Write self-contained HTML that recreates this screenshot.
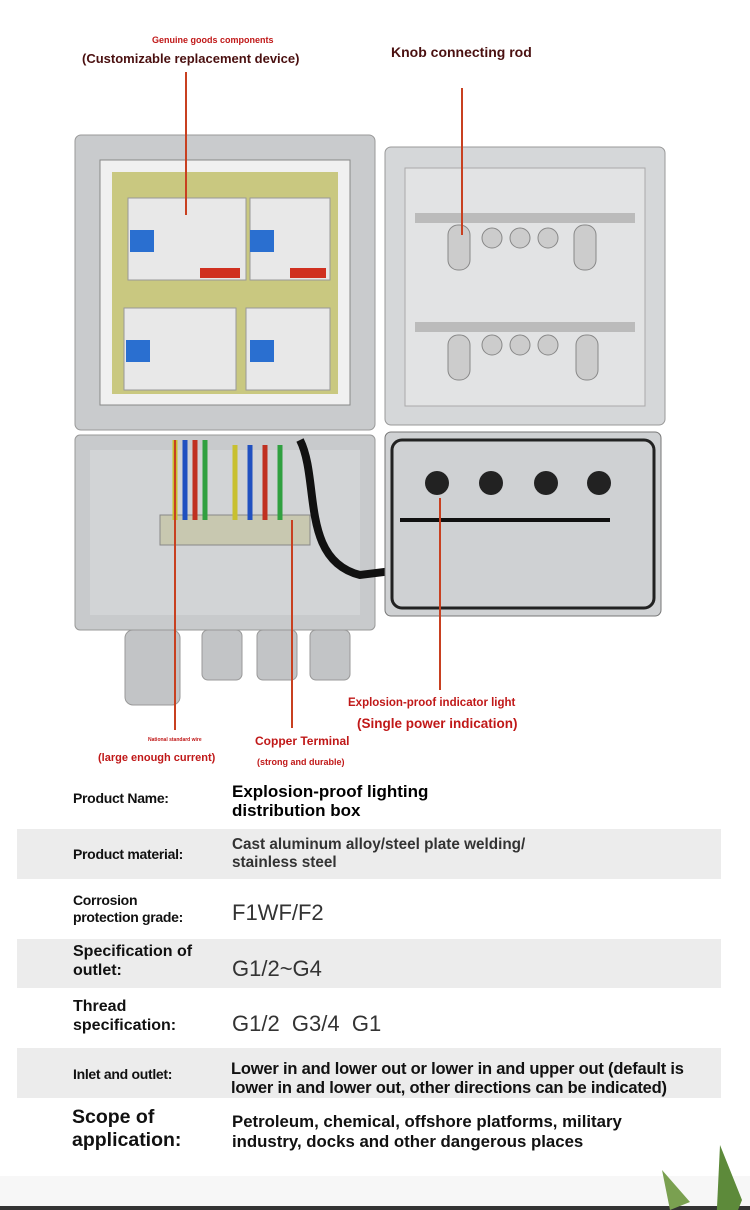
<!DOCTYPE html>
<html><head><meta charset="utf-8"><style>
body{margin:0;background:#fff;width:750px;height:1210px;position:relative;overflow:hidden;font-family:"Liberation Sans",sans-serif}
.t{position:absolute;font-weight:bold;white-space:nowrap;transform-origin:0 0}
.r{color:#c01818}
.band{position:absolute;left:17px;width:704px;background:#ececec}
.lab{color:#111;font-size:14px;letter-spacing:-0.3px}
</style></head><body>
<svg width="750" height="780" style="position:absolute;left:0;top:0">
<rect x="75" y="135" width="300" height="295" rx="6" fill="#c9cbcd" stroke="#999"/>
<rect x="100" y="160" width="250" height="245" fill="#f0f0f0" stroke="#888"/>
<rect x="112" y="172" width="226" height="222" fill="#c9c880"/>
<rect x="128" y="198" width="118" height="82" fill="#e8e8e8" stroke="#999"/>
<rect x="250" y="198" width="80" height="82" fill="#e8e8e8" stroke="#999"/>
<rect x="124" y="308" width="112" height="82" fill="#e8e8e8" stroke="#999"/>
<rect x="246" y="308" width="84" height="82" fill="#e8e8e8" stroke="#999"/>
<rect x="130" y="230" width="24" height="22" fill="#2a6fd0"/><rect x="250" y="230" width="24" height="22" fill="#2a6fd0"/>
<rect x="126" y="340" width="24" height="22" fill="#2a6fd0"/><rect x="250" y="340" width="24" height="22" fill="#2a6fd0"/>
<rect x="200" y="268" width="40" height="10" fill="#d03020"/><rect x="290" y="268" width="36" height="10" fill="#d03020"/>
<rect x="385" y="147" width="280" height="278" rx="6" fill="#d5d7d9" stroke="#999"/>
<rect x="405" y="168" width="240" height="238" fill="#e2e3e4" stroke="#aaa"/>
<rect x="415" y="213" width="220" height="10" fill="#bbb"/><rect x="415" y="322" width="220" height="10" fill="#bbb"/>
<g fill="#ccc" stroke="#888"><circle cx="492" cy="238" r="10"/><circle cx="520" cy="238" r="10"/><circle cx="548" cy="238" r="10"/>
<circle cx="492" cy="345" r="10"/><circle cx="520" cy="345" r="10"/><circle cx="548" cy="345" r="10"/>
<rect x="448" y="225" width="22" height="45" rx="10"/><rect x="574" y="225" width="22" height="45" rx="10"/>
<rect x="448" y="335" width="22" height="45" rx="10"/><rect x="576" y="335" width="22" height="45" rx="10"/></g>
<rect x="75" y="435" width="300" height="195" rx="5" fill="#c8cacc" stroke="#999"/>
<rect x="90" y="450" width="270" height="165" fill="#d2d4d6"/>
<rect x="160" y="515" width="150" height="30" fill="#c8c8b0" stroke="#888"/>
<g stroke-width="5" fill="none"><path d="M175 440V520" stroke="#c8c030"/><path d="M185 440V520" stroke="#2050c0"/><path d="M195 440V520" stroke="#c03020"/><path d="M205 440V520" stroke="#30a040"/>
<path d="M235 445V520" stroke="#c8c030"/><path d="M250 445V520" stroke="#2050c0"/><path d="M265 445V520" stroke="#c03020"/><path d="M280 445V520" stroke="#30a040"/>
<path d="M300 440C320 480 300 560 360 575L400 570" stroke="#111" stroke-width="8"/></g>
<rect x="385" y="432" width="276" height="184" rx="6" fill="#cfd1d3" stroke="#777"/>
<rect x="392" y="440" width="262" height="168" rx="10" fill="none" stroke="#222" stroke-width="3"/>
<g fill="#222"><circle cx="437" cy="483" r="12"/><circle cx="491" cy="483" r="12"/><circle cx="546" cy="483" r="12"/><circle cx="599" cy="483" r="12"/></g>
<path d="M400 520H610" stroke="#111" stroke-width="4"/>
<g fill="#c2c4c6" stroke="#999"><rect x="125" y="630" width="55" height="75" rx="8"/><rect x="202" y="630" width="40" height="50" rx="6"/><rect x="257" y="630" width="40" height="50" rx="6"/><rect x="310" y="630" width="40" height="50" rx="6"/></g>
<g stroke="#c84020" stroke-width="2"><path d="M186 72V215"/><path d="M462 88V235"/><path d="M175 440V730"/><path d="M292 520V728"/><path d="M440 498V690"/></g>
</svg>
<div class="t r" style="left:152px;top:35px;font-size:9px">Genuine goods components</div>
<div class="t" style="left:82px;top:51px;font-size:13px;color:#4a1010">(Customizable replacement device)</div>
<div class="t" style="left:391px;top:44px;font-size:14px;color:#4a1010">Knob connecting rod</div>
<div class="t r" style="left:348px;top:697px;font-size:11.5px">Explosion-proof indicator light</div>
<div class="t r" style="left:357px;top:716px;font-size:13.5px">(Single power indication)</div>
<div class="t r" style="left:148px;top:737px;font-size:5px">National standard wire</div>
<div class="t r" style="left:255px;top:734px;font-size:12px">Copper Terminal</div>
<div class="t r" style="left:98px;top:752px;font-size:11px">(large enough current)</div>
<div class="t r" style="left:257px;top:757px;font-size:9px">(strong and durable)</div>

<div class="band" style="top:829px;height:50px"></div>
<div class="band" style="top:939px;height:49px"></div>
<div class="band" style="top:1048px;height:50px"></div>

<div class="t lab" style="left:73px;top:790px">Product Name:</div>
<div class="t" style="left:232px;top:782px;font-size:17px;line-height:19px">Explosion-proof lighting<br>distribution box</div>
<div class="t lab" style="left:73px;top:846px">Product material:</div>
<div class="t" style="left:232px;top:836px;font-size:15.3px;line-height:18px;color:#333">Cast aluminum alloy/steel plate welding/<br>stainless steel</div>
<div class="t lab" style="left:73px;top:892px;line-height:17px">Corrosion<br>protection grade:</div>
<div class="t" style="left:232px;top:900px;font-size:22px;font-weight:normal;color:#333">F1WF/F2</div>
<div class="t" style="left:73px;top:942px;font-size:16px;line-height:19px;color:#111">Specification of<br>outlet:</div>
<div class="t" style="left:232px;top:956px;font-size:22px;font-weight:normal;color:#333">G1/2~G4</div>
<div class="t" style="left:73px;top:997px;font-size:16px;line-height:19px;color:#111">Thread<br>specification:</div>
<div class="t" style="left:232px;top:1011px;font-size:22px;font-weight:normal;color:#333">G1/2&nbsp; G3/4&nbsp; G1</div>
<div class="t lab" style="left:73px;top:1066px">Inlet and outlet:</div>
<div class="t" style="left:231px;top:1060px;font-size:16.5px;line-height:19px;letter-spacing:-0.2px;color:#111">Lower in and lower out or lower in and upper out (default is<br>lower in and lower out, other directions can be indicated)</div>
<div class="t" style="left:72px;top:1106px;font-size:19.5px;line-height:23px;color:#111">Scope of<br>application:</div>
<div class="t" style="left:232px;top:1112px;font-size:16.8px;line-height:20px;color:#111">Petroleum, chemical, offshore platforms, military<br>industry, docks and other dangerous places</div>
<div style="position:absolute;left:0;top:1176px;width:750px;height:30px;background:#f7f7f7"></div>
<div style="position:absolute;left:0;top:1206px;width:750px;height:4px;background:#333"></div>
<svg width="100" height="80" style="position:absolute;left:650px;top:1130px"><path d="M64 140L70 15L92 70Z" fill="#5d8a3a"/><path d="M20 80L12 40L40 72Z" fill="#7aa050"/></svg>
</body></html>
